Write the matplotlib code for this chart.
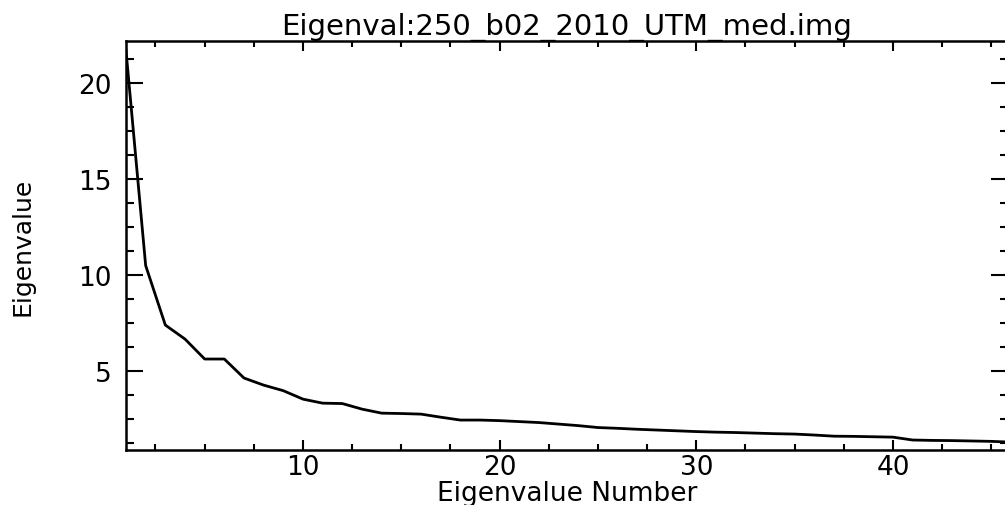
import matplotlib
matplotlib.use('Agg')
import matplotlib.pyplot as plt
from matplotlib.ticker import MultipleLocator

# eigenvalue number and eigenvalue
eig_number = list(range(1, 47))
eigenvalues = [21.7, 10.5, 7.40, 6.67, 5.63, 5.63, 4.64, 4.27, 3.98, 3.54,
               3.33, 3.31, 3.02, 2.81, 2.79, 2.76, 2.60, 2.45, 2.45, 2.42,
               2.37, 2.32, 2.24, 2.16, 2.06, 2.02, 1.97, 1.93, 1.89, 1.85,
               1.82, 1.80, 1.77, 1.74, 1.72, 1.67, 1.61, 1.60, 1.58, 1.56,
               1.41, 1.39, 1.38, 1.36, 1.34, 1.30]

title = 'Eigenval:250_b02_2010_UTM_med.img'

W, H = 1005, 506
fig = plt.figure(figsize=(W / 100, H / 100), dpi=100)
# axes box in pixels: left 126, right ~1008 (cut off), top 42, bottom 451
ax = fig.add_axes([126 / W, (H - 451) / H, (1008 - 126) / W, (451 - 42) / H])

ax.plot(eig_number, eigenvalues, color='black', lw=2.0)

ax.set_xlim(1, 45.85)
ax.set_ylim(0.89, 22.2)

ax.xaxis.set_major_locator(MultipleLocator(10))
ax.xaxis.set_minor_locator(MultipleLocator(2.5))
ax.yaxis.set_major_locator(MultipleLocator(5))
ax.yaxis.set_minor_locator(MultipleLocator(1.25))

ax.tick_params(axis='both', which='both', direction='in', top=True, right=True,
               color='black', width=1.5, labelsize=19)
ax.tick_params(axis='x', which='major', length=7, pad=3)
ax.tick_params(axis='x', which='minor', length=4)
ax.tick_params(axis='y', which='major', length=12, pad=10)
ax.tick_params(axis='y', which='minor', length=6)

for s in ax.spines.values():
    s.set_linewidth(1.8)
    s.set_color('black')

ax.set_xlabel('Eigenvalue Number', fontsize=19, labelpad=0)
ax.set_ylabel('Eigenvalue', fontsize=18, labelpad=32)
ax.set_title(title, fontsize=21, pad=3)

fig.savefig('out.png', dpi=100)
